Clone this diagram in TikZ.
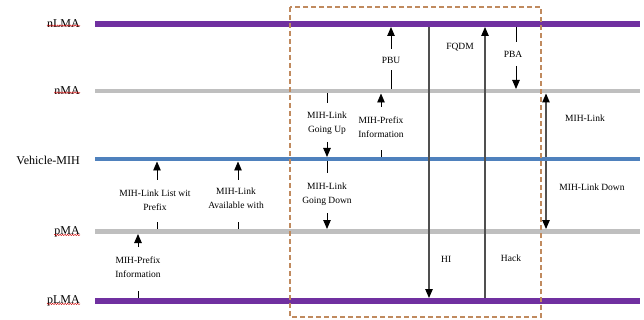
\documentclass[tikz,border=0pt]{standalone}
\usepackage{fontspec}
\setmainfont{Liberation Serif}
\usetikzlibrary{arrows.meta,decorations.pathmorphing}
\definecolor{lmapurple}{HTML}{7030A0}
\definecolor{magray}{HTML}{BFBFBF}
\definecolor{mihblue}{HTML}{4F81BD}
\definecolor{boxbrown}{HTML}{C08A5E}
\definecolor{vline}{HTML}{505050}
\begin{document}
\begin{tikzpicture}[x=1pt,y=-1pt,
  side/.style={anchor=east,font=\fontsize{12}{14}\selectfont,inner sep=0pt},
  lbl/.style={align=center,font=\fontsize{9.5}{14}\selectfont,inner sep=0pt},
  lbll/.style={lbl,anchor=west},
  msg/.style={line width=0.9pt,black},
  arr/.style={msg,-{Triangle[length=9pt,width=7.5pt]}},
  longarr/.style={line width=1.1pt,vline,-{Triangle[length=9pt,width=7.5pt,fill=black,color=black]}},
  squig/.style={red!80!black,line width=0.4pt,decorate,decoration={snake,amplitude=0.7pt,segment length=2.5pt}},
  lmaline/.style={lmapurple,line width=6pt},
  maline/.style={magray,line width=4.5pt},
  mihline/.style={mihblue,line width=4pt}]
\useasboundingbox (0,0) rectangle (644,320);

% horizontal lines
\coordinate (nLMAw) at (95,24);  \coordinate (nLMAe) at (640,24);
\coordinate (nMAw) at (95,91);   \coordinate (nMAe) at (640,91);
\coordinate (VMw) at (95,159);   \coordinate (VMe) at (640,159);
\coordinate (pMAw) at (95,231.5); \coordinate (pMAe) at (640,231.5);
\coordinate (pLMAw) at (95,301); \coordinate (pLMAe) at (640,301);
\draw[lmaline] (nLMAw) -- (nLMAe);
\draw[maline] (nMAw) -- (nMAe);
\draw[mihline] (VMw) -- (VMe);
\draw[maline] (pMAw) -- (pMAe);
\draw[lmaline] (pLMAw) -- (pLMAe);

% side labels
\node[side] (LnLMA) at (80,24) {nLMA};
\node[side] (LnMA) at (80,91) {nMA};
\node[side] (LVM) at (80,160) {Vehicle-MIH};
\node[side] (LpMA) at (80,232) {pMA};
\node[side] (LpLMA) at (80,301) {pLMA};
\foreach \n in {LnLMA,LnMA,LpMA,LpLMA}
  \draw[squig] ([yshift=2.5pt]\n.south west) -- ([yshift=2.5pt]\n.south east);

% A1 MIH-Prefix Information (left)
\coordinate (a1s) at (138,298); \coordinate (a1m) at (138,291);
\coordinate (a1n) at (138,247); \coordinate (a1e) at (138,234);
\draw[msg] (a1s) -- (a1m);
\node[lbl] (t1) at (138,267) {MIH-Prefix\\Information};
\draw[arr] (a1n) -- (a1e);

% A2 MIH-Link List wit Prefix
\coordinate (a2s) at (157,229); \coordinate (a2m) at (157,222);
\coordinate (a2n) at (157,180); \coordinate (a2e) at (157,161.5);
\draw[msg] (a2s) -- (a2m);
\node[lbl] (t2) at (155,200) {MIH-Link List wit\\Prefix};
\draw[arr] (a2n) -- (a2e);

% A3 MIH-Link Available with
\coordinate (a3s) at (238,229); \coordinate (a3m) at (238,222);
\coordinate (a3n) at (238,180); \coordinate (a3e) at (238,161.5);
\draw[msg] (a3s) -- (a3m);
\node[lbl] (t3) at (236,198.5) {MIH-Link\\Available with};
\draw[arr] (a3n) -- (a3e);

% A4 MIH-Link Going Up
\coordinate (a4s) at (327,93.5); \coordinate (a4m) at (327,103);
\coordinate (a4n) at (327,142); \coordinate (a4e) at (327,157);
\draw[msg] (a4s) -- (a4m);
\node[lbl] (t4) at (327,123.5) {MIH-Link\\Going Up};
\draw[arr] (a4n) -- (a4e);

% A5 MIH-Link Going Down
\coordinate (a5s) at (327,161); \coordinate (a5m) at (327,173);
\coordinate (a5n) at (327,213); \coordinate (a5e) at (327,229);
\draw[msg] (a5s) -- (a5m);
\node[lbl] (t5) at (327,194.5) {MIH-Link\\Going Down};
\draw[arr] (a5n) -- (a5e);

% A6 MIH-Prefix Information (middle)
\coordinate (a6s) at (381,157); \coordinate (a6m) at (381,150);
\coordinate (a6n) at (381,107); \coordinate (a6e) at (381,93.5);
\draw[msg] (a6s) -- (a6m);
\node[lbl] (t6) at (381,127.5) {MIH-Prefix\\Information};
\draw[arr] (a6n) -- (a6e);

% A7 PBU
\coordinate (a7s) at (391,89); \coordinate (a7m) at (391,70);
\coordinate (a7n) at (391,49); \coordinate (a7e) at (391,27);
\draw[msg] (a7s) -- (a7m);
\node[lbl] (t7) at (391,60) {PBU};
\draw[arr] (a7n) -- (a7e);

% A8 HI
\coordinate (a8s) at (429,27); \coordinate (a8e) at (429,298);
\draw[longarr] (a8s) -- (a8e);
\node[lbll] (t8) at (441,259) {HI};

% A9 Hack / FQDM
\coordinate (a9s) at (485,298); \coordinate (a9e) at (485,27);
\draw[longarr] (a9s) -- (a9e);
\node[lbl] (t9a) at (460,47) {FQDM};
\node[lbl] (t9b) at (511,258) {Hack};

% A10 PBA
\coordinate (a10s) at (516,27); \coordinate (a10m) at (516,42);
\coordinate (a10n) at (516,66); \coordinate (a10e) at (516,89);
\draw[msg] (a10s) -- (a10m);
\node[lbl] (t10) at (513,54) {PBA};
\draw[arr] (a10n) -- (a10e);

% A11 MIH-Link, A12 MIH-Link Down
\coordinate (a11s) at (546,157); \coordinate (a11e) at (546,93.5);
\coordinate (a12s) at (546,161); \coordinate (a12e) at (546,229);
\draw[longarr] (a11s) -- (a11e);
\draw[longarr] (a12s) -- (a12e);
\node[lbl] (t11) at (585,118) {MIH-Link};
\node[lbl] (t12) at (592,187) {MIH-Link Down};

% dashed box
\coordinate (bx1) at (290,7); \coordinate (bx2) at (541,317);
\draw[boxbrown,line width=1.1pt,dash pattern=on 5pt off 3pt] (bx1) rectangle (bx2);
\end{tikzpicture}
\end{document}
